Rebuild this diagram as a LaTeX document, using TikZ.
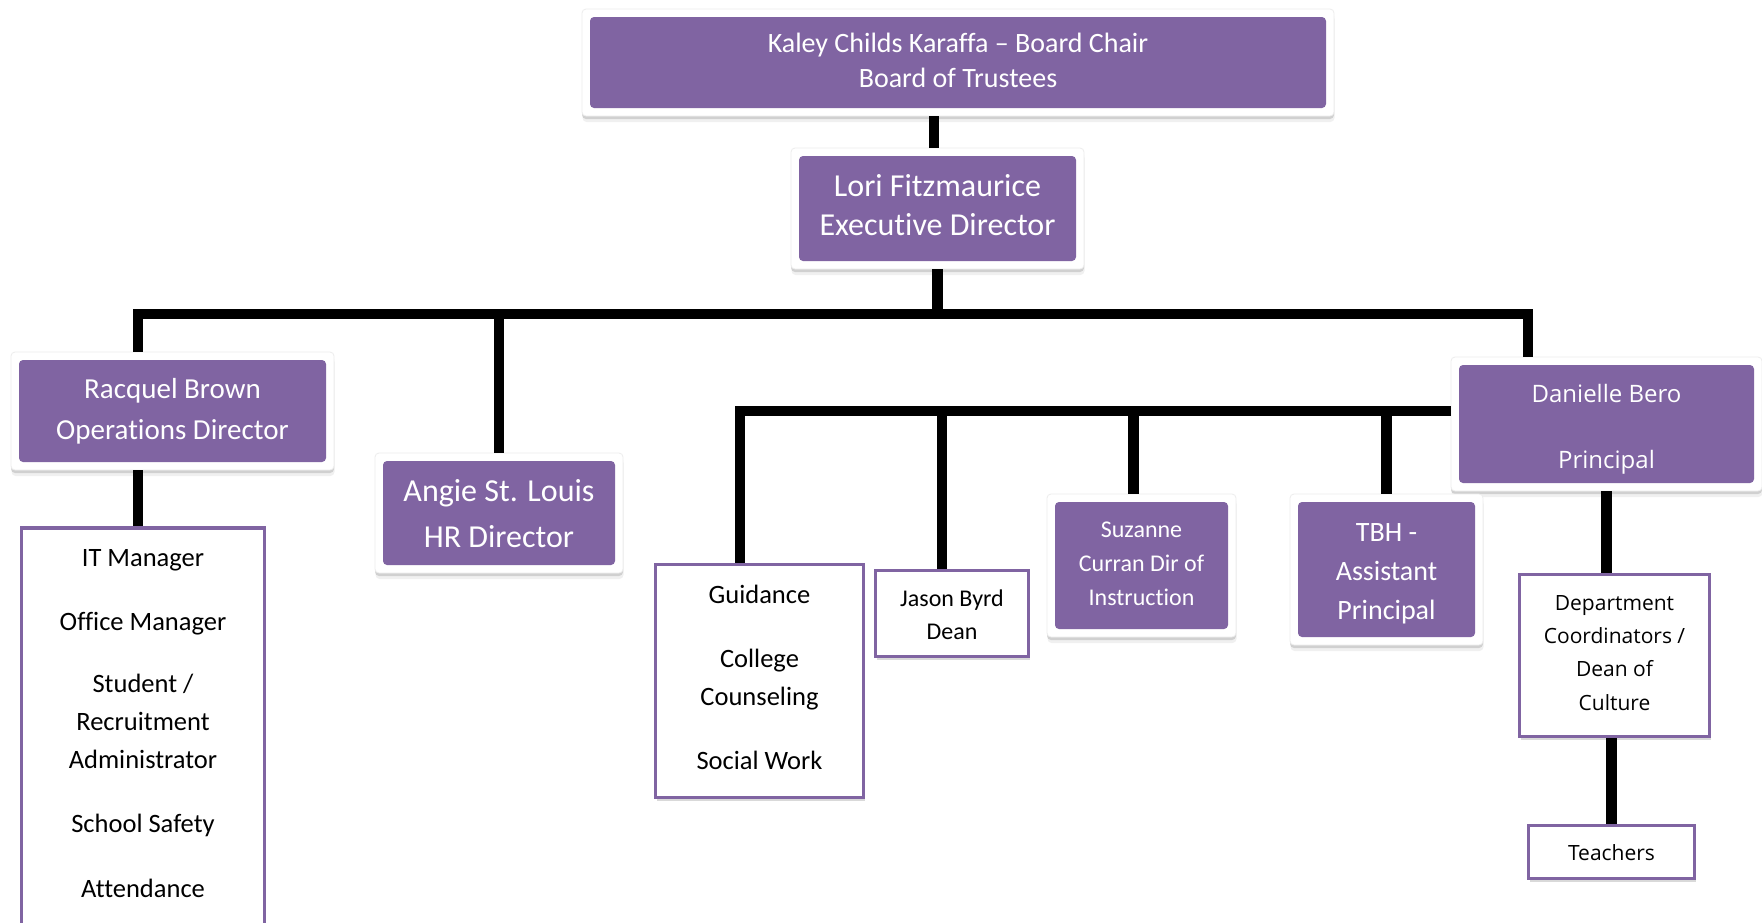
\documentclass[tikz,border=0pt]{standalone}
\usepackage{fontspec}
\setmainfont{Carlito}[Ligatures={NoCommon}]
\newfontfamily\osans{Open Sans}[Ligatures={NoCommon}]
\usetikzlibrary{shadows,calc}
\definecolor{pur}{RGB}{128,100,162}
\tikzset{
  pbox/.style={fill=white, draw=black!7, line width=0.8pt, rounded corners=4pt, inner sep=0pt,
    drop shadow={shadow xshift=0pt, shadow yshift=-3pt, opacity=0.13, fill=black},
    drop shadow={shadow xshift=0.5pt, shadow yshift=-6pt, opacity=0.06, fill=black},
    path picture={\fill[pur] ([xshift=8pt,yshift=-8pt]path picture bounding box.north west) rectangle ([xshift=-8pt,yshift=8pt]path picture bounding box.south east);}},
  obox/.style={fill=white, draw=pur, line width=3.5pt, inner sep=0pt,
    drop shadow={shadow xshift=1pt, shadow yshift=-3pt, opacity=0.15, fill=black}},
  wtext/.style={text=white, align=center, inner sep=0pt},
  btext/.style={text=black, align=center, inner sep=0pt},
  conn/.style={line width=10.5pt, black, line join=miter},
}
\begin{document}
\begin{tikzpicture}[x=1pt,y=-1pt]
\fill[white] (0,0) rectangle (1762,922);
\useasboundingbox (0,0) rectangle (1762,922);

% purple boxes
\node[pbox, minimum width=752pt, minimum height=107pt] (top) at (958,62.5) {};
\node[wtext, font=\fontsize{28}{35}\selectfont] (topT) at ([yshift=2.2pt]top.center) {Kaley Childs Karaffa – Board Chair\\Board of Trustees};
\node[pbox, minimum width=293pt, minimum height=121pt] (exec) at (937.5,208.5) {};
\node[wtext, font=\fontsize{32}{39}\selectfont] (execT) at ([yshift=3.5pt]exec.center) {Lori Fitzmaurice\\Executive Director};
\node[pbox, minimum width=323pt, minimum height=118pt] (racq) at (172.5,411) {};
\node[wtext, font=\fontsize{29}{41}\selectfont] (racqT) at (racq.center) {Racquel Brown\\Operations Director};
\node[pbox, minimum width=248pt, minimum height=120pt] (angie) at (499,513) {};
\node[wtext, font=\fontsize{32}{46}\selectfont] (angieT) at ([yshift=-1pt]angie.center) {Angie St. Louis\\HR Director};
\node[pbox, minimum width=311pt, minimum height=134pt] (dan) at (1606.5,424) {};
\node[wtext, font=\osans\fontsize{24}{33}\selectfont] (danT) at ([yshift=-5.5pt]dan.center) {Danielle Bero\\[33pt]Principal};
\node[pbox, minimum width=189pt, minimum height=143pt] (suz) at (1141.5,565.5) {};
\node[wtext, font=\fontsize{24}{34}\selectfont] (suzT) at ([yshift=2.2pt]suz.center) {Suzanne\\Curran Dir of\\Instruction};
\node[pbox, minimum width=193pt, minimum height=151pt] (tbh) at (1386.5,569.5) {};
\node[wtext, font=\fontsize{28}{39}\selectfont] (tbhT) at ([yshift=-4.5pt]tbh.center) {TBH -\\Assistant\\Principal};

% outlined boxes
\node[obox, minimum width=243pt, minimum height=400pt] (ops) at (143,728) {};
\node[btext, font=\fontsize{26.5}{38}\selectfont] (opsT) at ([yshift=4pt]ops.center) {IT Manager\\[26pt]Office Manager\\[24pt]Student /\\Recruitment\\Administrator\\[26pt]School Safety\\[27pt]Attendance};
\node[obox, minimum width=208pt, minimum height=233pt] (guid) at (759.5,681) {};
\node[btext, font=\fontsize{26.5}{38}\selectfont] (guidT) at ([yshift=3.9pt]guid.center) {Guidance\\[26pt]College\\Counseling\\[26pt]Social Work};
\node[obox, minimum width=153pt, minimum height=86pt] (jason) at (952,613.5) {};
\node[btext, font=\fontsize{24}{33}\selectfont] (jasonT) at ([yshift=-1.5pt]jason.center) {Jason Byrd\\Dean};
\node[obox, minimum width=190pt, minimum height=162pt] (dept) at (1614.5,655.5) {};
\node[btext, font=\osans\fontsize{21}{33.3}\selectfont] (deptT) at ([yshift=2.8pt]dept.center) {Department\\Coordinators /\\Dean of\\Culture};
\node[obox, minimum width=166pt, minimum height=53pt] (teach) at (1611.5,852) {};
\node[btext, font=\osans\fontsize{21}{25}\selectfont] (teachT) at ([yshift=-1pt]teach.center) {Teachers};

\coordinate (busL) at (138,314);
\coordinate (busR) at (1528,314);
\coordinate (subL) at (740,411);

\draw[conn] ([xshift=-3.5pt]exec.north) -- ([xshift=-3.5pt]exec.north |- top.south);
\draw[conn] (exec.south) -- (exec.south |- busL);
\draw[conn] (busL |- racq.north) -- (busL) -- (busR) -- (busR |- dan.north);
\draw[conn] (angie.north) -- (angie.north |- busL);
\draw[conn] (racq.south -| busL) -- (ops.north -| busL);
\draw[conn] (guid.north -| subL) -- (subL) -- (subL -| dan.west);
\draw[conn] ([xshift=-10pt]jason.north) -- ([xshift=-10pt]jason.north |- subL);
\draw[conn] ([xshift=-8pt]suz.north) -- ([xshift=-8pt]suz.north |- subL);
\draw[conn] (tbh.north) -- (tbh.north |- subL);
\draw[conn] (dan.south) -- (dan.south |- dept.north);
\draw[conn] (teach.north) -- (teach.north |- dept.south);
\end{tikzpicture}
\end{document}
